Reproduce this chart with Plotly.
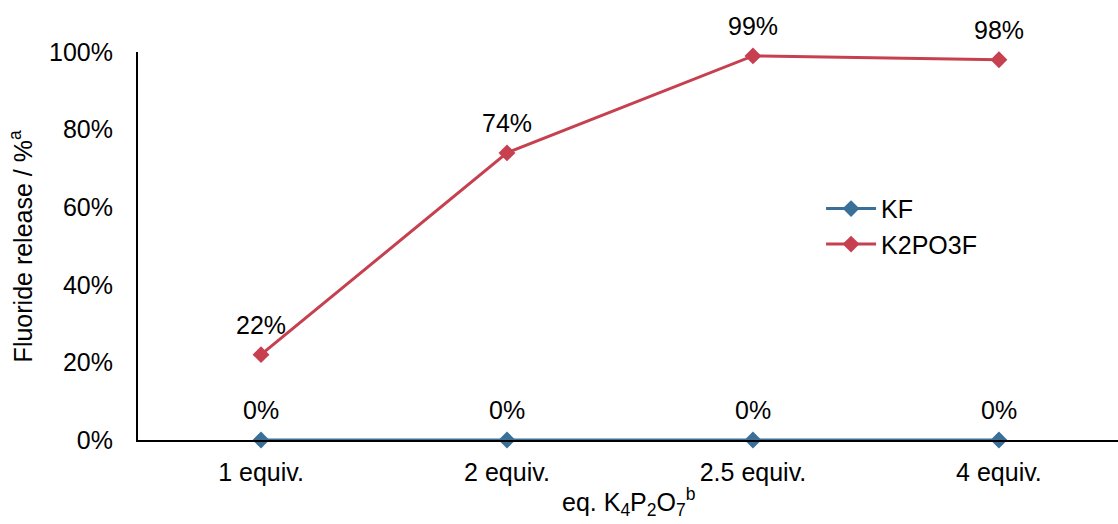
import plotly.graph_objects as go

categories = ["1 equiv.", "2 equiv.", "2.5 equiv.", "4 equiv."]
kf = [0.0, 0.0, 0.0, 0.0]
k2po3f = [0.22, 0.74, 0.99, 0.98]
y_ticks = [0, 0.2, 0.4, 0.6, 0.8, 1.0]
y_tick_labels = ["0%", "20%", "40%", "60%", "80%", "100%"]

font = "Liberation Sans, Arial, sans-serif"
FS = 25
blue = "#3A6F98"
red = "#C6404F"

fig = go.Figure()
fig.add_trace(go.Scatter(
    x=categories, y=kf, name="KF", mode="lines+markers",
    line=dict(color=blue, width=3),
    marker=dict(symbol="diamond", size=13, color=blue),
    cliponaxis=False,
))
fig.add_trace(go.Scatter(
    x=categories, y=k2po3f, name="K2PO3F", mode="lines+markers",
    line=dict(color=red, width=3),
    marker=dict(symbol="diamond", size=13, color=red),
    cliponaxis=False,
))

for series in (kf, k2po3f):
    for c, v in zip(categories, series):
        fig.add_annotation(
            x=c, y=v, text=f"{v*100:.0f}%", showarrow=False,
            xanchor="center", yanchor="middle", yshift=30,
            font=dict(size=FS, family=font, color="#000000"),
        )

# axis titles as annotations for precise placement
fig.add_annotation(
    xref="paper", yref="paper", x=0.5, y=-0.16,
    text="eq. K<sub>4</sub>P<sub>2</sub>O<sub>7</sub><sup>b</sup>",
    showarrow=False, xanchor="center", yanchor="middle",
    font=dict(size=FS, family=font, color="#000000"),
)
fig.add_annotation(
    xref="paper", yref="paper", x=-0.119, y=0.5,
    text="Fluoride release / %<sup>a</sup>", textangle=-90,
    showarrow=False, xanchor="center", yanchor="middle",
    font=dict(size=FS, family=font, color="#000000"),
)

fig.update_layout(
    width=1118, height=524,
    margin=dict(l=138, r=0, t=52, b=84),
    paper_bgcolor="white", plot_bgcolor="white",
    font=dict(family=font, size=FS, color="#000000"),
    showlegend=True,
    legend=dict(x=0.697, y=0.655, xanchor="left", yanchor="top",
                font=dict(size=FS, family=font), bgcolor="rgba(0,0,0,0)",
                tracegroupgap=0, itemwidth=50),
    xaxis=dict(
        type="category", range=[-0.5, 3.484],
        showline=True, linecolor="#000000", linewidth=2,
        showgrid=False, zeroline=False, ticks="",
        tickfont=dict(size=FS, family=font), ticklabelstandoff=9,
    ),
    yaxis=dict(
        range=[0, 1.0], tickvals=y_ticks, ticktext=y_tick_labels,
        showline=True, linecolor="#000000", linewidth=2,
        showgrid=False, zeroline=False, ticks="",
        tickfont=dict(size=FS, family=font), ticklabelstandoff=18,
    ),
)

fig.write_html("out.html")
